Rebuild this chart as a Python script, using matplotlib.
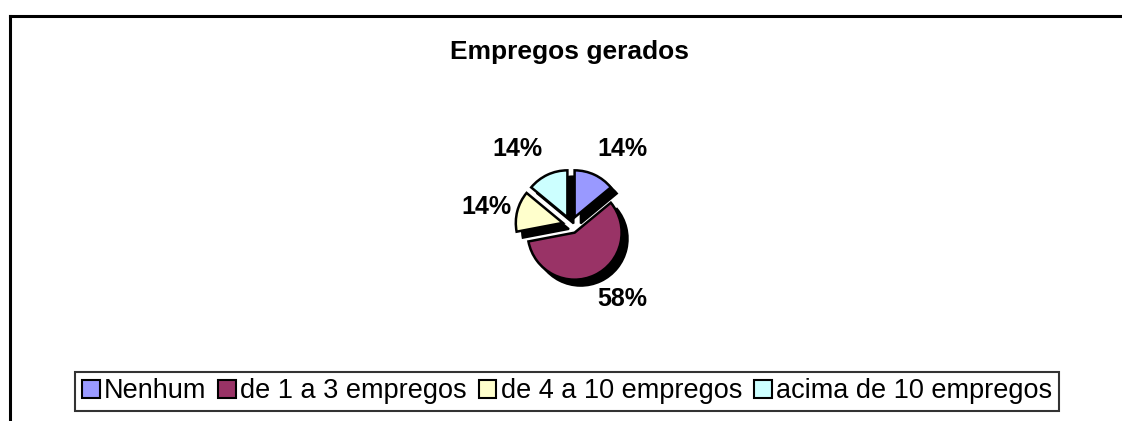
import numpy as np
import matplotlib.pyplot as plt
from matplotlib.patches import Patch
from matplotlib.lines import Line2D

plt.rcParams['font.family'] = ['Liberation Sans', 'DejaVu Sans']

labels = ['Nenhum', 'de 1 a 3 empregos', 'de 4 a 10 empregos', 'acima de 10 empregos']
values = [14, 58, 14, 14]
colors = ['#9999FF', '#993366', '#FFFFCC', '#CCFFFF']
# where excel put the % labels (pie radius units, from pie centre)
label_pos = [(1.09, 1.62), (1.09, -1.57), (-1.79, 0.38), (-1.15, 1.62)]

W, H = 1122, 421
fig = plt.figure(figsize=(W / 100, H / 100), dpi=100)

# outer frame (open to right and bottom, like the cropped chart area)
fx, fy = 10 / W, 1 - 16 / H
fig.add_artist(Line2D([fx, fx], [0, fy], color='black', lw=2.2))
fig.add_artist(Line2D([fx, 1], [fy, fy], color='black', lw=2.2))

fig.text(569 / W, 1 - 52 / H, 'Empregos gerados', ha='center', va='center',
         fontsize=19, fontweight='bold')

cx, cy, r = 571, 225, 47
half = 150
ax = fig.add_axes([(cx - half) / W, (H - cy - half) / H, 2 * half / W, 2 * half / H])
lim = half / r
ax.set_aspect('equal')
ax.axis('off')

explode = [0.18] * len(values)
# shadow
sh, _ = ax.pie(values, explode=explode, startangle=90, counterclock=False,
               colors=['black'] * len(values), center=(0.13, -0.13), radius=1,
               wedgeprops=dict(linewidth=1.5, edgecolor='black'))
for w in sh:
    w.set_zorder(1)
wedges, _ = ax.pie(values, explode=explode, startangle=90, counterclock=False,
                   colors=colors, radius=1,
                   wedgeprops=dict(linewidth=1.8, edgecolor='black'))
for w in wedges:
    w.set_zorder(2)
ax.set_xlim(-lim, lim)
ax.set_ylim(-lim, lim)

for v, (x, y) in zip(values, label_pos):
    ax.text(x, y, f'{v}%', ha='center', va='center', fontsize=18,
            fontweight='bold', zorder=3)

handles = [Patch(facecolor=c, edgecolor='black', linewidth=1.5) for c in colors]
leg = fig.legend(handles, labels, loc='center', ncol=4,
                 bbox_to_anchor=((71 + 1063) / 2 / W, 1 - 391.5 / H),
                 fontsize=19.5, frameon=True, fancybox=False,
                 handlelength=0.65, handleheight=0.65, handletextpad=0.15,
                 columnspacing=0.45, borderpad=0.25, borderaxespad=0)
leg.get_frame().set_edgecolor('black')
leg.get_frame().set_linewidth(1.5)

fig.savefig('out.png', dpi=100)
